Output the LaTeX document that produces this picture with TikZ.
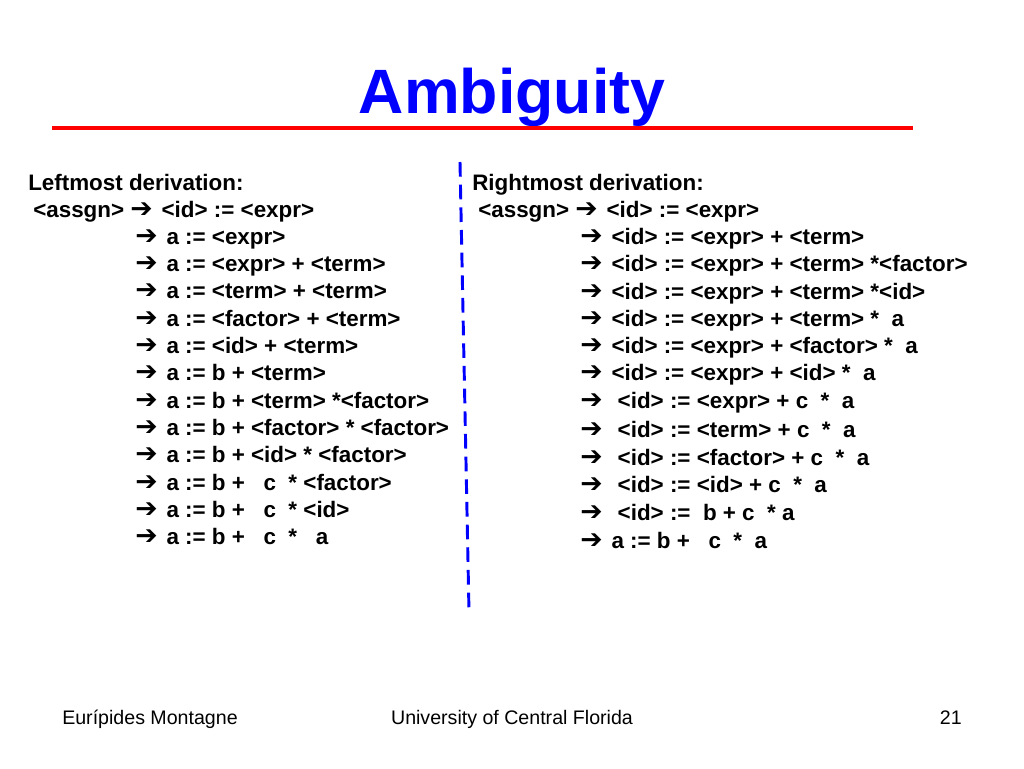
\documentclass[tikz,border=0pt]{standalone}
\usepackage{fontspec}
\setmainfont{Liberation Sans}
\newfontfamily\arr{DejaVu Sans}
\newcommand{\ar}{{\arr\bfseries\fontsize{20}{20}\selectfont ➔}\hspace{2pt}}
\begin{document}
\begin{tikzpicture}[x=0.75pt,y=-0.75pt,
  tx/.style={anchor=base west,inner sep=0pt,font=\fontsize{16.8}{19}\selectfont\bfseries},
  ft/.style={anchor=base,inner sep=0pt,font=\fontsize{14.7}{17}\selectfont}]
\useasboundingbox (0,0) rectangle (1024,768);
\node[anchor=base,inner sep=0pt,font=\fontsize{47}{52}\selectfont\bfseries,text=blue] (title) at (512,113) {Ambiguity};
\coordinate (r1) at (52,128); \coordinate (r2) at (913,128);
\draw[red,line width=3pt] (r1) -- (r2);
\coordinate (d1) at (460,162); \coordinate (d2) at (469,612);
\draw[blue,line width=2.2pt,dash pattern=on 11pt off 6pt] (d1) -- (d2);
\node[tx] (l0) at (28,190) {Leftmost derivation:};
\node[tx] (l1) at (33,217) {<assgn> \ar{} <id> := <expr>};
\foreach \t [count=\i] in {a := <expr>, a := <expr> + <term>, a := <term> + <term>, a := <factor> + <term>, a := <id> + <term>, a := b + <term>, a := b + <term> *<factor>, a := b + <factor> * <factor>, a := b + <id> * <factor>, a := b +~~ c~ * <factor>, a := b +~~ c~ * <id>, a := b +~~ c~ *~~ a}
  \node[tx] (la\i) at (135,{217+\i*27.3}) {\ar{} \t};
\node[tx] (r0) at (472,190) {Rightmost derivation:};
\node[tx] (rr1) at (478,217) {<assgn> \ar{} <id> := <expr>};
\foreach \t/\y [count=\i] in {{ <id> := <expr> + <term>}/244, { <id> := <expr> + <term> *<factor>}/271, { <id> := <expr> + <term> *<id>}/299, { <id> := <expr> + <term> *~ a}/326, { <id> := <expr> + <factor> *~ a}/353, { <id> := <expr> + <id> *~ a}/380, {~~<id> := <expr> + c~ *~ a}/408, {~~<id> := <term> + c~ *~ a}/437, {~~<id> := <factor> + c~ *~ a}/465, {~~<id> := <id> + c~ *~ a}/492, {~~<id> :=~ b + c~ * a}/520, { a := b +~~ c~ *~ a}/548}
  \node[tx] (ra\i) at (580,\y) {\ar\t};
\node[ft,anchor=base west] (f1) at (62,724) {Eurípides Montagne};
\node[ft] (f2) at (512,724) {University of Central Florida};
\node[ft,anchor=base east] (f3) at (962,724) {21};
\end{tikzpicture}
\end{document}
